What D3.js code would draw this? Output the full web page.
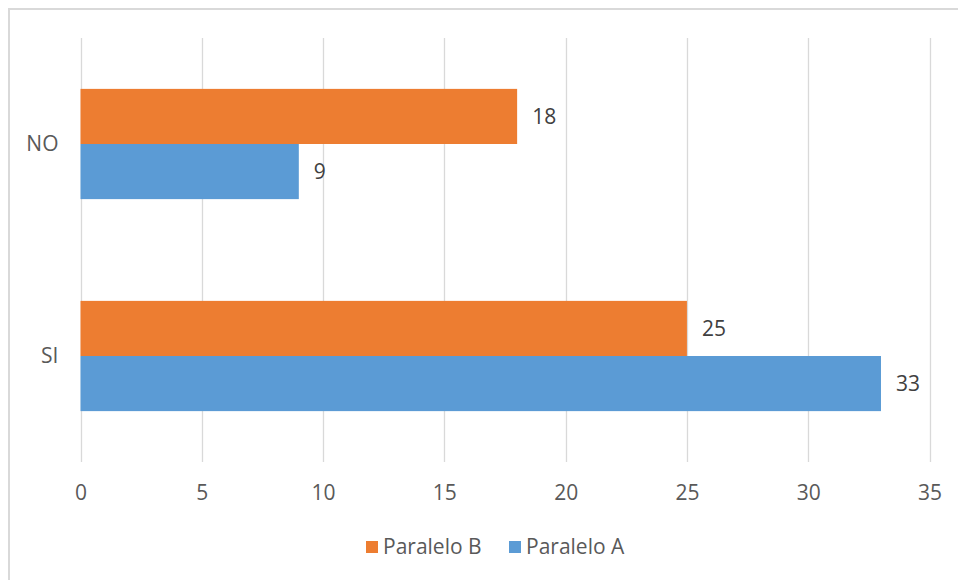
<!DOCTYPE html>
<html><head><meta charset="utf-8">
<script src="https://cdn.jsdelivr.net/npm/d3@7"></script>
<style>body{margin:0;background:#fff}svg{display:block}</style>
</head><body><svg id="c" width="958" height="580"></svg>
<script>
const categories = ["NO", "SI"];
const seriesNames = ["Paralelo B", "Paralelo A"];
const paraleloB = [18, 25];
const paraleloA = [9, 33];
const xTicks = [0, 5, 10, 15, 20, 25, 30, 35];
const colors = ["#ED7D31", "#5B9BD5"];

(function () {
const svg = d3.select("#c");
const font = "'Open Sans', Lato, sans-serif";
const fs = 21;
const textColor = "#595959";

svg.append("rect").attr("x", 9).attr("y", 9).attr("width", 960).attr("height", 600)
  .attr("fill", "#fff").attr("stroke", "#d9d9d9").attr("stroke-width", 2);

const pLeft = 80.5, pRight = 929.5, pTop = 38, pBottom = 462;
const x = d3.scaleLinear().domain([0, 35]).range([pLeft, pRight]);
const y = d3.scaleBand().domain(categories).range([pTop, pBottom]).paddingInner(0.48).paddingOuter(0.24);
const sub = d3.scaleBand().domain(seriesNames).range([0, y.bandwidth()]);

// gridlines
svg.append("g").selectAll("line").data(xTicks).join("line")
  .attr("x1", d => Math.round(x(d)) + 0.5).attr("x2", d => Math.round(x(d)) + 0.5)
  .attr("y1", pTop).attr("y2", pBottom)
  .attr("stroke", "#d9d9d9").attr("stroke-width", 1.3);

const data = [paraleloB, paraleloA];
data.forEach((vals, si) => {
  const g = svg.append("g");
  g.selectAll("rect").data(vals).join("rect")
    .attr("x", x(0))
    .attr("y", (d, i) => y(categories[i]) + sub(seriesNames[si]))
    .attr("width", d => x(d) - x(0))
    .attr("height", sub.bandwidth())
    .attr("fill", colors[si]);
  g.selectAll("text").data(vals).join("text")
    .attr("x", d => x(d) + 15)
    .attr("y", (d, i) => y(categories[i]) + sub(seriesNames[si]) + sub.bandwidth() / 2)
    .attr("dy", "0.35em")
    .attr("font-family", font).attr("font-size", fs).attr("fill", "#404040")
    .text(d => d);
});

// x axis labels
const xa = svg.append("g").attr("transform", `translate(0,${pBottom})`)
  .call(d3.axisBottom(x).tickValues(xTicks).tickSize(0).tickPadding(23));
xa.select(".domain").remove();
xa.selectAll("text").attr("font-family", font).attr("font-size", fs).attr("fill", textColor);

// y axis labels
const ya = svg.append("g").attr("transform", `translate(${pLeft},0)`)
  .call(d3.axisLeft(y).tickSize(0).tickPadding(22));
ya.select(".domain").remove();
ya.selectAll("text").attr("font-family", font).attr("font-size", fs).attr("fill", textColor);

// legend
const legend = svg.append("g").attr("transform", "translate(366,547)");
const lx = [0, 143];
seriesNames.forEach((n, i) => {
  legend.append("rect").attr("x", lx[i]).attr("y", -6).attr("width", 12).attr("height", 12).attr("fill", colors[i]);
  legend.append("text").attr("x", lx[i] + 17).attr("y", 0).attr("dy", "0.35em")
    .attr("font-family", font).attr("font-size", fs).attr("fill", textColor).text(n);
});
})();
</script>
</body></html>
